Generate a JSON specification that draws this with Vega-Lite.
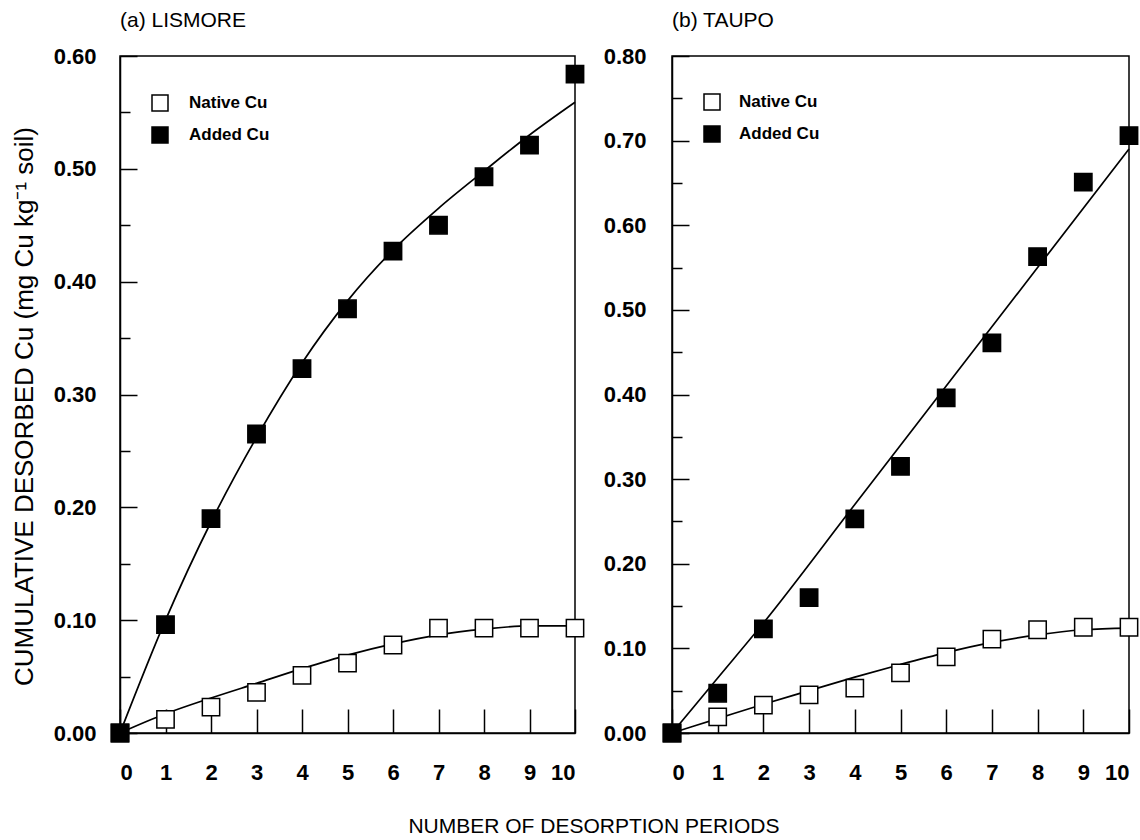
{
  "$schema": "https://vega.github.io/schema/vega-lite/v6.json",
  "background": "white",
  "padding": {"left": 10, "top": 9, "right": 5, "bottom": 2},
  "config": {
    "font": "Liberation Sans",
    "view": {"stroke": "black", "strokeWidth": 1.5},
    "axis": {
      "grid": false,
      "domainColor": "black",
      "domainWidth": 1.5,
      "tickColor": "black",
      "tickWidth": 1.5,
      "labelFont": "Liberation Sans",
      "labelFontWeight": "bold",
      "labelFontSize": 22,
      "labelColor": "black",
      "titleFont": "Liberation Sans",
      "titleFontWeight": "normal",
      "titleFontSize": 26,
      "titleColor": "black"
    },
    "legend": {
      "orient": "none",
      "title": null,
      "symbolType": "square",
      "symbolSize": 256,
      "symbolStrokeColor": "black",
      "symbolStrokeWidth": 1.5,
      "labelFont": "Liberation Sans",
      "labelFontWeight": "bold",
      "labelFontSize": 17,
      "labelColor": "black",
      "rowPadding": 10,
      "padding": 0
    }
  },
  "title": {"text": "NUMBER OF DESORPTION PERIODS", "orient": "bottom", "anchor": "middle", "fontSize": 21, "fontWeight": "normal", "font": "Liberation Sans", "color": "black", "offset": 32, "dx": 18},
  "datasets": {
    "lisPts": [
      {"series": "Native Cu", "x": 0, "y": 0},
      {"series": "Native Cu", "x": 1, "y": 0.012},
      {"series": "Native Cu", "x": 2, "y": 0.023},
      {"series": "Native Cu", "x": 3, "y": 0.036},
      {"series": "Native Cu", "x": 4, "y": 0.051},
      {"series": "Native Cu", "x": 5, "y": 0.062},
      {"series": "Native Cu", "x": 6, "y": 0.078},
      {"series": "Native Cu", "x": 7, "y": 0.093},
      {"series": "Native Cu", "x": 8, "y": 0.093},
      {"series": "Native Cu", "x": 9, "y": 0.093},
      {"series": "Native Cu", "x": 10, "y": 0.093},
      {"series": "Added Cu", "x": 0, "y": 0},
      {"series": "Added Cu", "x": 1, "y": 0.096},
      {"series": "Added Cu", "x": 2, "y": 0.19},
      {"series": "Added Cu", "x": 3, "y": 0.265},
      {"series": "Added Cu", "x": 4, "y": 0.323},
      {"series": "Added Cu", "x": 5, "y": 0.376},
      {"series": "Added Cu", "x": 6, "y": 0.427},
      {"series": "Added Cu", "x": 7, "y": 0.45},
      {"series": "Added Cu", "x": 8, "y": 0.493},
      {"series": "Added Cu", "x": 9, "y": 0.521},
      {"series": "Added Cu", "x": 10, "y": 0.584}
    ],
    "lisFit": [
      {"series": "Native Cu", "x": 0, "y": 0},
      {"series": "Native Cu", "x": 1, "y": 0.017},
      {"series": "Native Cu", "x": 2, "y": 0.031},
      {"series": "Native Cu", "x": 3, "y": 0.044},
      {"series": "Native Cu", "x": 4, "y": 0.057},
      {"series": "Native Cu", "x": 5, "y": 0.069},
      {"series": "Native Cu", "x": 6, "y": 0.079},
      {"series": "Native Cu", "x": 7, "y": 0.087},
      {"series": "Native Cu", "x": 8, "y": 0.092},
      {"series": "Native Cu", "x": 9, "y": 0.095},
      {"series": "Native Cu", "x": 10, "y": 0.095},
      {"series": "Added Cu", "x": 0, "y": 0},
      {"series": "Added Cu", "x": 1, "y": 0.1},
      {"series": "Added Cu", "x": 2, "y": 0.187},
      {"series": "Added Cu", "x": 3, "y": 0.262},
      {"series": "Added Cu", "x": 4, "y": 0.328},
      {"series": "Added Cu", "x": 5, "y": 0.383},
      {"series": "Added Cu", "x": 6, "y": 0.428},
      {"series": "Added Cu", "x": 7, "y": 0.465},
      {"series": "Added Cu", "x": 8, "y": 0.498},
      {"series": "Added Cu", "x": 9, "y": 0.53},
      {"series": "Added Cu", "x": 10, "y": 0.559}
    ],
    "tauPts": [
      {"series": "Native Cu", "x": 0, "y": 0},
      {"series": "Native Cu", "x": 1, "y": 0.019},
      {"series": "Native Cu", "x": 2, "y": 0.033},
      {"series": "Native Cu", "x": 3, "y": 0.045},
      {"series": "Native Cu", "x": 4, "y": 0.053},
      {"series": "Native Cu", "x": 5, "y": 0.071},
      {"series": "Native Cu", "x": 6, "y": 0.09},
      {"series": "Native Cu", "x": 7, "y": 0.111},
      {"series": "Native Cu", "x": 8, "y": 0.122},
      {"series": "Native Cu", "x": 9, "y": 0.125},
      {"series": "Native Cu", "x": 10, "y": 0.125},
      {"series": "Added Cu", "x": 0, "y": 0},
      {"series": "Added Cu", "x": 1, "y": 0.047},
      {"series": "Added Cu", "x": 2, "y": 0.123},
      {"series": "Added Cu", "x": 3, "y": 0.16},
      {"series": "Added Cu", "x": 4, "y": 0.253},
      {"series": "Added Cu", "x": 5, "y": 0.315},
      {"series": "Added Cu", "x": 6, "y": 0.396},
      {"series": "Added Cu", "x": 7, "y": 0.461},
      {"series": "Added Cu", "x": 8, "y": 0.563},
      {"series": "Added Cu", "x": 9, "y": 0.651},
      {"series": "Added Cu", "x": 10, "y": 0.706}
    ],
    "tauFit": [
      {"series": "Native Cu", "x": 0, "y": 0},
      {"series": "Native Cu", "x": 1, "y": 0.017},
      {"series": "Native Cu", "x": 2, "y": 0.034},
      {"series": "Native Cu", "x": 3, "y": 0.05},
      {"series": "Native Cu", "x": 4, "y": 0.066},
      {"series": "Native Cu", "x": 5, "y": 0.081},
      {"series": "Native Cu", "x": 6, "y": 0.095},
      {"series": "Native Cu", "x": 7, "y": 0.107},
      {"series": "Native Cu", "x": 8, "y": 0.116},
      {"series": "Native Cu", "x": 9, "y": 0.122},
      {"series": "Native Cu", "x": 10, "y": 0.124},
      {"series": "Added Cu", "x": 0, "y": 0},
      {"series": "Added Cu", "x": 1, "y": 0.065},
      {"series": "Added Cu", "x": 2, "y": 0.13},
      {"series": "Added Cu", "x": 4, "y": 0.27},
      {"series": "Added Cu", "x": 6, "y": 0.41},
      {"series": "Added Cu", "x": 8, "y": 0.55},
      {"series": "Added Cu", "x": 10, "y": 0.69}
    ]
  },
  "spacing": 14,
  "hconcat": [
    {
      "width": 455,
      "height": 677,
      "title": {"text": "(a) LISMORE", "anchor": "start", "frame": "group", "fontSize": 21, "fontWeight": "normal", "font": "Liberation Sans", "color": "black", "offset": 14},
      "layer": [
        {
          "data": {"name": "lisFit"},
          "mark": {"type": "line", "interpolate": "monotone", "color": "black", "strokeWidth": 1.7},
          "encoding": {
            "x": {"field": "x", "type": "quantitative", "scale": {"domain": [0, 10], "nice": false},
              "axis": {"values": [0,1,2,3,4,5,6,7,8,9,10], "title": null, "tickSize": -24, "labelPadding": 53}},
            "y": {"field": "y", "type": "quantitative", "scale": {"domain": [0, 0.6], "nice": false},
              "axis": {"values": [0,0.05,0.1,0.15,0.2,0.25,0.3,0.35,0.4,0.45,0.5,0.55,0.6],
                "labelExpr": "round(datum.value*100) % 10 == 0 ? format(datum.value, '.2f') : ''",
                "tickSize": {"condition": {"test": "round(datum.value*100) % 10 == 0", "value": -17}, "value": -10},
                "labelPadding": 41,
                "title": "CUMULATIVE DESORBED Cu (mg Cu kg⁻¹ soil)", "titlePadding": 16, "titleY": 350}},
            "detail": {"field": "series"}
          }
        },
        {
          "data": {"name": "lisPts"},
          "mark": {"type": "point", "shape": "square", "filled": true, "size": 300, "stroke": "black", "strokeWidth": 1.5, "opacity": 1},
          "encoding": {
            "x": {"field": "x", "type": "quantitative"},
            "y": {"field": "y", "type": "quantitative"},
            "fill": {"field": "series", "type": "nominal",
              "scale": {"domain": ["Native Cu", "Added Cu"], "range": ["white", "black"]},
              "legend": {"legendX": 31, "legendY": 38, "labelOffset": 20}}
          }
        }
      ]
    },
    {
      "width": 457,
      "height": 677,
      "title": {"text": "(b) TAUPO", "anchor": "start", "frame": "group", "fontSize": 21, "fontWeight": "normal", "font": "Liberation Sans", "color": "black", "offset": 14},
      "layer": [
        {
          "data": {"name": "tauFit"},
          "mark": {"type": "line", "interpolate": "monotone", "color": "black", "strokeWidth": 1.7},
          "encoding": {
            "x": {"field": "x", "type": "quantitative", "scale": {"domain": [0, 10], "nice": false},
              "axis": {"values": [0,1,2,3,4,5,6,7,8,9,10], "title": null, "tickSize": -24, "labelPadding": 53}},
            "y": {"field": "y", "type": "quantitative", "scale": {"domain": [0, 0.8], "nice": false},
              "axis": {"values": [0,0.05,0.1,0.15,0.2,0.25,0.3,0.35,0.4,0.45,0.5,0.55,0.6,0.65,0.7,0.75,0.8],
                "labelExpr": "round(datum.value*100) % 10 == 0 ? format(datum.value, '.2f') : ''",
                "tickSize": {"condition": {"test": "round(datum.value*100) % 10 == 0", "value": -17}, "value": -10},
                "labelPadding": 43,
                "title": null}},
            "detail": {"field": "series"}
          }
        },
        {
          "data": {"name": "tauPts"},
          "mark": {"type": "point", "shape": "square", "filled": true, "size": 300, "stroke": "black", "strokeWidth": 1.5, "opacity": 1},
          "encoding": {
            "x": {"field": "x", "type": "quantitative"},
            "y": {"field": "y", "type": "quantitative"},
            "fill": {"field": "series", "type": "nominal",
              "scale": {"domain": ["Native Cu", "Added Cu"], "range": ["white", "black"]},
              "legend": {"legendX": 31, "legendY": 37, "labelOffset": 18}}
          }
        }
      ]
    }
  ],
  "resolve": {"scale": {"fill": "independent", "y": "independent", "x": "independent"}, "legend": {"fill": "independent"}}
}
